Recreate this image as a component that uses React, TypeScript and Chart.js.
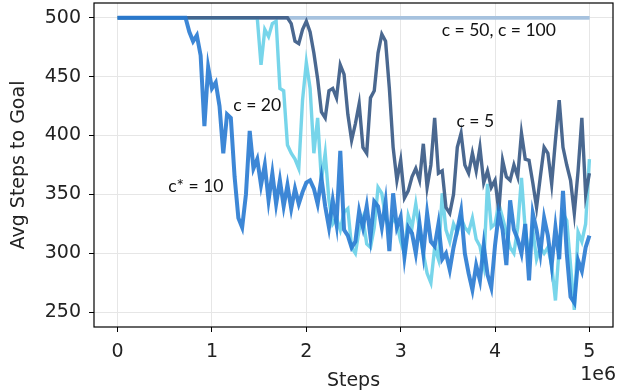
import React, { useEffect, useRef } from "react";
import { Chart, registerables } from "chart.js";

Chart.register(...registerables);

// x positions in millions of steps (0 .. 5.0 every 0.04)
const STEP_M = 0.04;
const N_POINTS = 126;
const X_STEPS: number[] = Array.from({ length: N_POINTS }, (_, i) => +(i * STEP_M).toFixed(2) * 1e6);

const C10_VALUES: number[] = [
  500, 500, 500, 500, 500, 500, 500, 500, 500, 500, 500, 500, 500, 500, 500, 500, 500, 500, 500,
  488, 480, 485, 468, 408, 458, 440, 445, 425, 385, 418, 415, 365, 330, 322, 350, 404, 372, 380,
  358, 375, 345, 368, 342, 362, 340, 358, 338, 355, 342, 352, 360, 362, 355, 342, 364, 340, 322,
  345, 325, 387, 320, 315, 305, 310, 336, 322, 340, 314, 344, 340, 322, 344, 302, 351, 322, 331,
  297, 322, 317, 300, 325, 300, 334, 310, 306, 325, 295, 300, 286, 305, 320, 336, 300, 283, 269,
  290, 277, 307, 282, 271, 307, 334, 320, 290, 345, 320, 312, 300, 325, 277, 334, 320, 300, 330,
  315, 290, 322, 295, 353, 300, 263, 258, 294, 285, 305, 315,
];

const C20_VALUES: number[] = [
  500, 500, 500, 500, 500, 500, 500, 500, 500, 500, 500, 500, 500, 500, 500, 500, 500, 500, 500,
  500, 500, 500, 500, 500, 500, 500, 500, 500, 500, 500, 500, 500, 500, 500, 500, 500, 500, 500,
  460, 490, 484, 495, 497, 440, 438, 392, 385, 380, 372, 430, 462, 440, 385, 415, 362, 385, 345,
  325, 330, 320, 335, 338, 305, 300, 320, 330, 308, 305, 322, 356, 351, 330, 320, 330, 325, 310,
  300, 332, 322, 342, 320, 300, 283, 275, 305, 295, 351, 320, 310, 325, 318, 330, 322, 318, 330,
  312, 306, 290, 359, 322, 325, 342, 330, 318, 305, 300, 322, 364, 320, 298, 320, 295, 305, 300,
  305, 290, 260, 305, 334, 328, 290, 252, 318, 310, 325, 380,
];

const C5_VALUES: number[] = [
  500, 500, 500, 500, 500, 500, 500, 500, 500, 500, 500, 500, 500, 500, 500, 500, 500, 500, 500,
  500, 500, 500, 500, 500, 500, 500, 500, 500, 500, 500, 500, 500, 500, 500, 500, 500, 500, 500,
  500, 500, 500, 500, 500, 500, 500, 500, 495, 480, 478, 490, 497, 488, 470, 448, 420, 415, 438,
  440, 432, 460, 452, 418, 396, 410, 427, 390, 385, 432, 438, 470, 486, 480, 440, 390, 362, 379,
  347, 353, 365, 372, 362, 393, 356, 375, 415, 368, 370, 339, 334, 350, 390, 402, 375, 368, 385,
  370, 390, 360, 370, 356, 362, 336, 379, 365, 362, 375, 365, 402, 380, 379, 360, 339, 365, 390,
  385, 359, 396, 430, 390, 375, 362, 334, 370, 415, 350, 368,
];

const C50_VALUES: number[] = Array.from({ length: N_POINTS }, () => 500);
const C100_VALUES: number[] = Array.from({ length: N_POINTS }, () => 500);

const X_TICKS: number[] = [0, 1e6, 2e6, 3e6, 4e6, 5e6];
const Y_TICKS: number[] = [250, 300, 350, 400, 450, 500];

const LABELS: { text: string; x: number; y: number }[] = [
  { text: "c = 50, c = 100", x: 4.04e6, y: 489 },
  { text: "c = 5", x: 3.79e6, y: 412 },
  { text: "c = 20", x: 1.48e6, y: 426 },
  { text: "c* = 10", x: 0.83e6, y: 357 },
];

const toPts = (ys: number[]) => ys.map((y, i) => ({ x: X_STEPS[i], y }));

export default function App() {
  const ref = useRef<HTMLCanvasElement | null>(null);
  useEffect(() => {
    if (!ref.current) return;
    const tickFont = { family: "DejaVu Sans", size: 19 };
    const annot = {
      id: "annot",
      afterDatasetsDraw(chart: any) {
        const { ctx, chartArea, scales } = chart;
        ctx.save();
        ctx.strokeStyle = "#000";
        ctx.lineWidth = 1.2;
        ctx.strokeRect(chartArea.left, chartArea.top, chartArea.right - chartArea.left, chartArea.bottom - chartArea.top);
        ctx.fillStyle = "#111";
        ctx.font = "17.5px Lato";
        ctx.textAlign = "center";
        ctx.textBaseline = "middle";
        for (const l of LABELS) {
          ctx.fillText(l.text, scales.x.getPixelForValue(l.x), scales.y.getPixelForValue(l.y));
        }
        ctx.font = "19px 'DejaVu Sans'";
        ctx.textAlign = "right";
        ctx.fillStyle = "#222";
        ctx.fillText("1e6", chartArea.right + 3, 375);
        ctx.restore();
      },
    };
    const ds = (label: string, data: number[], color: string, width: number) => ({
      label,
      data: toPts(data),
      borderColor: color,
      borderWidth: width,
      pointRadius: 0,
      fill: false,
      tension: 0,
    });
    const chart = new Chart(ref.current, {
      type: "line",
      data: {
        datasets: [
          ds("c* = 10", C10_VALUES, "rgba(40, 122, 210, 0.9)", 4),
          ds("c = 5", C5_VALUES, "rgba(64, 96, 138, 0.95)", 3.4),
          ds("c = 20", C20_VALUES, "rgba(104, 208, 232, 0.9)", 3.4),
          ds("c = 50", C50_VALUES, "rgba(166, 194, 222, 0.95)", 3.4),
          ds("c = 100", C100_VALUES, "rgba(166, 194, 222, 0.95)", 3.4),
        ],
      },
      options: {
        animation: false,
        responsive: true,
        maintainAspectRatio: false,
        layout: { padding: { top: 3, right: 22, left: 0, bottom: 0 } },
        plugins: { legend: { display: false }, tooltip: { enabled: false } },
        scales: {
          x: {
            type: "linear",
            min: -0.25e6,
            max: 5.25e6,
            afterBuildTicks: (s: any) => { s.ticks = X_TICKS.map((v) => ({ value: v })); },
            afterFit: (s: any) => { s.height = 65; s.paddingLeft = 0; s.paddingRight = 0; },
            ticks: { font: tickFont, color: "#222", padding: 9, maxRotation: 0, callback: (v: any) => String(Number(v) / 1e6) },
            grid: { color: "#e6e6e6", tickColor: "#000", tickLength: 5, lineWidth: 1 },
            border: { display: false },
            title: { display: true, text: "Steps", font: tickFont, color: "#222", padding: { top: 0, bottom: 0 } },
          },
          y: {
            type: "linear",
            min: 237.5,
            max: 512.5,
            afterBuildTicks: (s: any) => { s.ticks = Y_TICKS.map((v) => ({ value: v })); },
            afterFit: (s: any) => { s.width = 94; s.paddingTop = 0; s.paddingBottom = 0; },
            ticks: { font: tickFont, color: "#222", padding: 8 },
            grid: { color: "#e6e6e6", tickColor: "#000", tickLength: 5, lineWidth: 1 },
            border: { display: false },
            title: { display: true, text: "Avg Steps to Goal", font: tickFont, color: "#222", padding: { top: 8, bottom: 4 } },
          },
        },
      },
      plugins: [annot],
    } as any);
    return () => chart.destroy();
  }, []);
  return (
    <div style={{ position: "fixed", left: 0, top: 0, width: 635, height: 392, background: "#fff" }}>
      <canvas ref={ref} />
    </div>
  );
}
